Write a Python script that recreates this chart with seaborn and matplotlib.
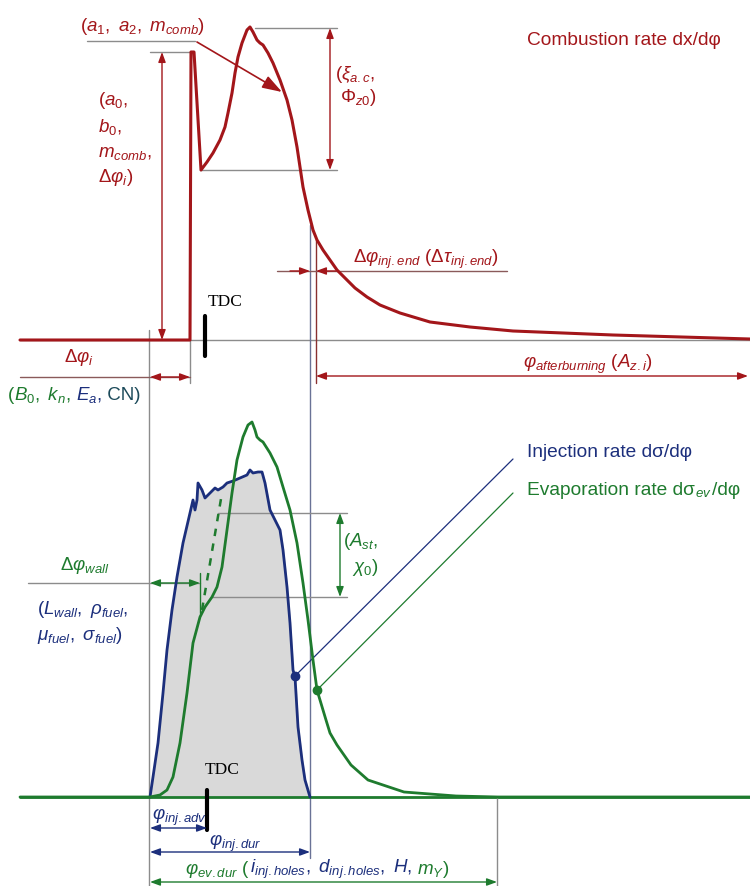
import matplotlib
matplotlib.use("Agg")
import matplotlib.pyplot as plt
import seaborn as sns
import pandas as pd

sns.set_style("white")
plt.rcParams["font.family"] = ["Liberation Sans", "DejaVu Sans"]
plt.rcParams["mathtext.fontset"] = "custom"
plt.rcParams["mathtext.rm"] = "Liberation Sans"
plt.rcParams["mathtext.it"] = "Liberation Sans:italic"
plt.rcParams["mathtext.bf"] = "Liberation Sans:bold"

RED = "#a3161a"
BLUE = "#1c2f7c"
GREEN = "#1e7b2e"
GRAY = "#8c8c8c"
FILL = "#d9d9d9"

# combustion rate dx/dphi (crank angle, rate above the top baseline)
comb_phi = [20, 190, 191, 194, 201, 207, 213, 220, 225, 228, 232, 235, 238, 242, 247, 250, 253,
            257, 260, 263, 268, 273, 280, 287, 292, 297, 300, 303, 308, 313, 317, 323, 337, 355,
            367, 380, 400, 430, 470, 513, 613, 750]
comb_rate = [0, 0, 288, 288, 170, 178, 187, 200, 213, 227, 247, 267, 283, 297, 310, 313, 308,
             300, 297, 295, 287, 277, 260, 240, 220, 193, 173, 153, 130, 110, 100, 90, 70, 52,
             43, 35, 27, 18, 13, 9, 5, 1]

# injection rate dsigma/dphi (rate above the bottom baseline)
inj_phi = [150, 153, 158, 163, 167, 172, 177, 183, 190, 193, 195, 197, 198, 202, 205, 210, 215,
           218, 223, 227, 233, 240, 247, 250, 253, 258, 262, 265, 270, 275, 280, 283, 287, 290,
           293, 295, 298, 302, 305, 310]
inj_rate = [0, 20, 54, 104, 147, 187, 220, 254, 284, 297, 287, 297, 314, 307, 299, 304, 309,
            307, 310, 314, 316, 319, 322, 327, 324, 325, 325, 314, 287, 277, 267, 247, 210, 174,
            127, 120, 70, 37, 17, 0]

# evaporation rate dsigma_ev/dphi
ev_phi = [20, 150, 160, 167, 173, 180, 187, 193, 200, 205, 212, 217, 222, 227, 232, 237, 243,
          248, 252, 255, 257, 260, 263, 270, 277, 283, 290, 297, 303, 308, 313, 317, 320, 326,
          330, 337, 351, 368, 404, 456, 498, 750]
ev_rate = [0, 0, 2, 7, 20, 54, 104, 154, 180, 190, 200, 210, 230, 267, 304, 337, 360,
           372, 375, 367, 360, 357, 355, 344, 330, 310, 287, 254, 214, 177, 137, 107, 97, 77,
           64, 52, 32, 17, 5, 1, 0, 0]

# wall-film (dashed) branch of evaporation
wall_phi = [202, 222]
wall_rate = [187, 304]

TOP0 = 340
BOT0 = 797
FS = 13.5

fig = plt.figure(figsize=(7.5, 8.86), dpi=100)
ax = fig.add_axes([0, 0, 1, 1])
ax.set_xlim(0, 750)
ax.set_ylim(886, 0)
ax.axis("off")

comb = pd.DataFrame({"phi": comb_phi, "y": [TOP0 - r for r in comb_rate]})
inj = pd.DataFrame({"phi": inj_phi, "y": [BOT0 - r for r in inj_rate]})
ev = pd.DataFrame({"phi": ev_phi, "y": [BOT0 - r for r in ev_rate]})


def hline(y, x0, x1, c=GRAY, lw=1.0):
    ax.plot([x0, x1], [y, y], color=c, lw=lw, zorder=1)


def vline(x, y0, y1, c=GRAY, lw=1.0):
    ax.plot([x, x], [y0, y1], color=c, lw=lw, zorder=1)


def arrow(p0, p1, c, style="<|-|>"):
    ax.annotate("", xy=p1, xytext=p0,
                arrowprops=dict(arrowstyle=style + ",head_length=0.6,head_width=0.22",
                                color=c, lw=1.0, shrinkA=0, shrinkB=0), zorder=3)


def txt(x, y, s, c, size=FS, ha="left", **kw):
    return ax.text(x, y, s, color=c, fontsize=size, ha=ha, va="center", **kw)


def seg_text(x, y, parts, size=FS):
    fig.canvas.draw()
    r = fig.canvas.get_renderer()
    inv = ax.transData.inverted()
    for s, c in parts:
        t = txt(x, y, s, c, size)
        bb = t.get_window_extent(r)
        x = inv.transform((bb.x1, bb.y0))[0]


# ---------- top: combustion ----------
hline(TOP0, 20, 750)
sns.lineplot(data=comb, x="phi", y="y", ax=ax, color=RED, lw=2.2, sort=False, zorder=4)

hline(41, 87, 195)
ax.annotate("", xy=(282, 92), xytext=(197, 42),
            arrowprops=dict(arrowstyle="-|>,head_length=1.2,head_width=0.4", color=RED, lw=1.2,
                            shrinkA=0, shrinkB=0))
hline(52, 150, 193)
arrow((162, 52), (162, TOP0), RED)
hline(28, 255, 337)
hline(170, 200, 337)
arrow((330, 28), (330, 170), RED)

txt(143, 26, r"$(a_1,$ $a_2,$ $m_{comb})$", RED, ha="center")
for yy, s in zip([100, 127, 153, 177], [r"$(a_0,$", r"$b_0,$", r"$m_{comb},$", r"$\Delta\varphi_i)$"]):
    txt(98, yy, s, RED)
txt(335, 74, r"$(\xi_{a.c},$", RED)
txt(340, 97, r"$\Phi_{z0})$", RED)
txt(527, 40, "Combustion rate dx/dφ", RED, size=13.8)

txt(208, 302, "TDC", "black", size=12.5, family="Liberation Serif")
vline(205, 316, 356, c="black", lw=3)

# verticals
vline(149, 330, 886)
vline(190, TOP0, 383)
vline(310, 225, 858, c="#6a7296")
vline(316, 240, 383, c="#8a3030")

hline(271, 277, 507, c="#8a5a5a")
arrow((290, 271), (310, 271), RED, style="-|>")
arrow((336, 271), (316, 271), RED, style="-|>")
txt(353, 259, r"$\Delta\varphi_{inj.end}$ $(\Delta\tau_{inj.end})$", RED)

hline(377, 20, 190, c="#8a5a5a")
arrow((150, 377), (190, 377), RED)
txt(79, 357, r"$\Delta\varphi_i$", RED, ha="center")

arrow((316, 376), (748, 376), RED)
txt(523, 364, r"$\varphi_{afterburning}$ $(A_{z.i})$", RED)

seg_text(8, 395, [("(", GREEN), (r"$B_0,$ $k_n,$", GREEN), (" ", GREEN), (r"$E_a,$", BLUE),
                  (" CN)", "#1c4a5a")])

# ---------- bottom: injection / evaporation ----------
ax.fill_between(inj["phi"], inj["y"], BOT0, color=FILL, zorder=0)
hline(BOT0, 20, 750, c=GREEN, lw=2)
sns.lineplot(data=inj, x="phi", y="y", ax=ax, color=BLUE, lw=2, sort=False, zorder=4)
sns.lineplot(data=ev, x="phi", y="y", ax=ax, color=GREEN, lw=2, sort=False, zorder=5)
ax.plot(wall_phi, [BOT0 - r for r in wall_rate], color=GREEN, lw=1.8, ls=(0, (3, 3)), zorder=5)

# A_st, chi0
hline(513, 218, 347)
hline(597, 212, 347)
arrow((340, 513), (340, 597), GREEN)
txt(343, 542, r"$(A_{st},$", GREEN)
txt(352, 567, r"$\chi_0)$", GREEN)

# wall film
hline(583, 28, 200)
arrow((150, 583), (200, 583), GREEN)
vline(200, 573, 613, c=GREEN)
txt(85, 565, r"$\Delta\varphi_{wall}$", GREEN, ha="center")
txt(37, 610, r"$(L_{wall},$ $\rho_{fuel},$", BLUE)
txt(37, 635, r"$\mu_{fuel},$ $\sigma_{fuel})$", BLUE)

# leaders
ax.plot([295, 513], [676, 459], color=BLUE, lw=0.9)
ax.plot([317, 513], [690, 493], color=GREEN, lw=0.9)
ax.plot([295], [676], "o", color=BLUE, ms=6, zorder=6)
ax.plot([317], [690], "o", color=GREEN, ms=6, zorder=6)
txt(527, 452, "Injection rate dσ/dφ", BLUE, size=13.8)
seg_text(527, 490, [("Evaporation rate dσ", GREEN), (r"$_{ev}$", GREEN), ("/dφ", GREEN)], size=13.8)

txt(205, 770, "TDC", "black", size=12.5, family="Liberation Serif")
vline(207, 790, 830, c="black", lw=3)

vline(497, BOT0, 886)
txt(152, 817, r"$\varphi_{inj.adv}$", BLUE)
arrow((150, 828), (207, 828), BLUE)
txt(235, 843, r"$\varphi_{inj.dur}$", BLUE, ha="center")
arrow((150, 852), (310, 852), BLUE)
seg_text(185, 869, [(r"$\varphi_{ev.dur}$ (", GREEN), (r"$i_{inj.holes},$ $d_{inj.holes},$ $H,$", BLUE),
                    (r" $m_Y$)", GREEN)])
arrow((150, 882), (497, 882), GREEN)

fig.savefig("out.png", dpi=100)
